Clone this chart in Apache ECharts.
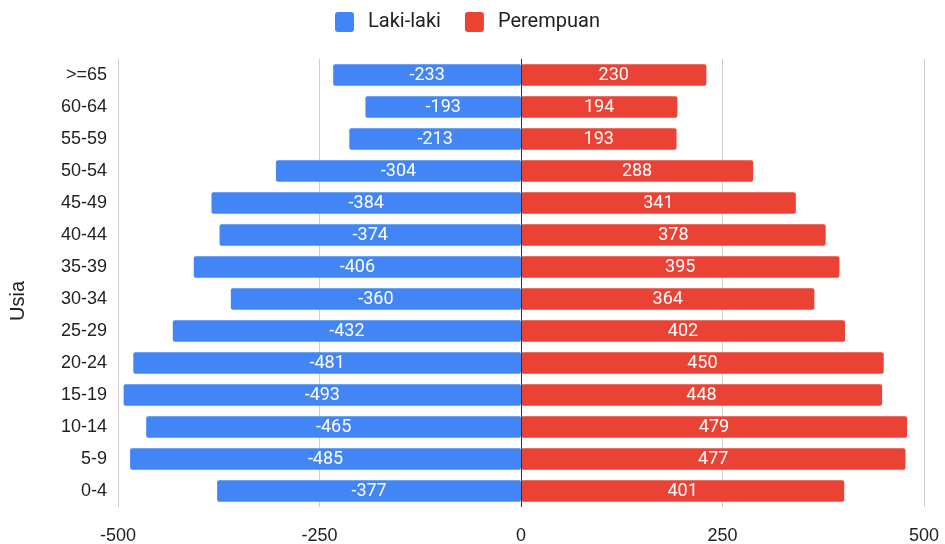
<!DOCTYPE html>
<html>
<head>
<meta charset="utf-8">
<script src="https://cdn.jsdelivr.net/npm/echarts@6/dist/echarts.min.js"></script>
<style>html,body{margin:0;padding:0;background:#fff}#c{width:945px;height:544px}</style>
</head>
<body>
<div id="c"></div>
<script>
const categories = ['0-4','5-9','10-14','15-19','20-24','25-29','30-34','35-39','40-44','45-49','50-54','55-59','60-64','>=65'];
const lakiLaki = [-377,-485,-465,-493,-481,-432,-360,-406,-374,-384,-304,-213,-193,-233];
const perempuan = [401,477,479,448,450,402,364,395,378,341,288,193,194,230];
const xTicks = [-500,-250,0,250,500];

const chart = echarts.init(document.getElementById('c'));
const labelStyle = {show:true, position:'inside', color:'#fff', fontFamily:'Roboto', fontSize:18};
const legendIcon = 'path://M3,0H16A3,3,0,0,1,19,3V17A3,3,0,0,1,16,20H3A3,3,0,0,1,0,17V3A3,3,0,0,1,3,0Z';
chart.setOption({
  animation:false,
  color:['#4285F4','#EA4335'],
  legend:{
    left:330, top:7, itemWidth:19, itemHeight:20, itemGap:24, icon:legendIcon,
    textStyle:{fontFamily:'Roboto', fontSize:20, color:'#222', padding:[0,0,0,9]},
    data:['Laki-laki','Perempuan']
  },
  grid:{left:118, right:21, top:59, bottom:37, containLabel:false, outerBoundsMode:'none'},
  xAxis:{
    type:'value', min:xTicks[0], max:xTicks[xTicks.length-1], interval:250,
    axisLine:{show:false}, axisTick:{show:false},
    axisLabel:{fontFamily:'Liberation Sans', fontSize:18, color:'#222', margin:20},
    splitLine:{lineStyle:{color:'#ccc', width:1}}
  },
  yAxis:{
    type:'category', data:categories,
    axisLine:{show:false}, axisTick:{show:false},
    axisLabel:{fontFamily:'Liberation Sans', fontSize:18, color:'#222', margin:11},
    name:'Usia', nameLocation:'middle', nameGap:90, nameRotate:90,
    nameTextStyle:{fontFamily:'Liberation Sans', fontSize:20, color:'#222', padding:[0,36,0,0]}
  },
  series:[
    {name:'Laki-laki', type:'bar', data:lakiLaki, barWidth:21.5, barGap:'-100%',
     itemStyle:{borderRadius:2}, label:labelStyle,
     markLine:{silent:true, symbol:'none', label:{show:false},
       lineStyle:{color:'#333', width:1, type:'solid'}, data:[{xAxis:0}]}},
    {name:'Perempuan', type:'bar', data:perempuan, barWidth:21.5, barGap:'-100%',
     itemStyle:{borderRadius:2}, label:labelStyle}
  ]
});
</script>
</body>
</html>
